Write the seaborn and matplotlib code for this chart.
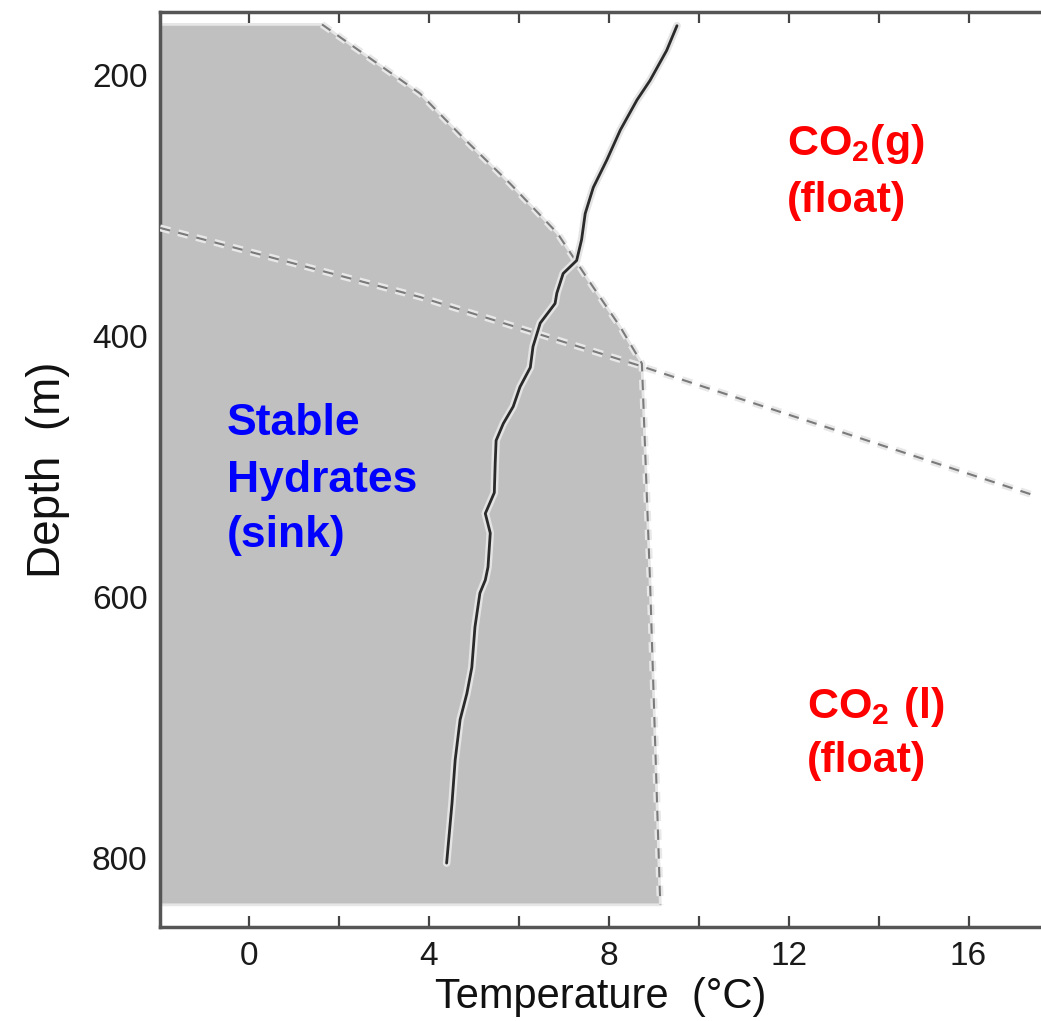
import matplotlib
matplotlib.use("Agg")
import numpy as np
import pandas as pd
import seaborn as sns
import matplotlib.pyplot as plt
import matplotlib.patheffects as pe

# ---------------- data ----------------
# hydrate stability boundary (upper-right edge of the grey region)
hyd_temp = [-1.97, 1.63, 3.81, 4.77, 5.81, 6.86, 7.59, 8.26, 8.74, 8.92, 9.14, 9.15]
hyd_depth = [161, 161, 214, 248, 283, 321, 359, 393, 421, 587, 827, 836]
hyd_bottom = 836

# CO2 gas / liquid boundary
gl_temp = [-1.97, 3.81, 8.63, 17.45]
gl_depth = [317, 370, 422, 522]

# measured temperature profile
prof_temp = [9.52, 9.29, 8.92, 8.63, 8.26, 7.96, 7.66, 7.48, 7.40, 7.29, 6.99, 6.85,
             6.81, 6.48, 6.32, 6.26, 6.03, 5.88, 5.66, 5.50, 5.48, 5.46, 5.26, 5.37,
             5.32, 5.26, 5.14, 5.03, 4.96, 4.85, 4.70, 4.59, 4.52, 4.40]
prof_depth = [162, 181, 204, 219, 242, 265, 286, 306, 326, 342, 352, 367,
              375, 390, 408, 424, 439, 454, 467, 480, 497, 520, 536, 551,
              577, 587, 597, 623, 654, 674, 694, 725, 758, 804]

x_ticks = [0, 2, 4, 6, 8, 10, 12, 14, 16]
x_ticklabels = ["0", "", "4", "", "8", "", "12", "", "16"]
y_ticks = [200, 250, 300, 350, 400, 450, 500, 550, 600, 650, 700, 750, 800]
y_ticklabels = ["200", "", "", "", "400", "", "", "", "600", "", "", "", "800"]

# ---------------- style ----------------
sns.set_theme(style="ticks")
plt.rcParams["font.family"] = ["Liberation Sans", "DejaVu Sans"]
plt.rcParams["mathtext.fontset"] = "custom"
plt.rcParams["mathtext.rm"] = "Liberation Sans"
plt.rcParams["mathtext.bf"] = "Liberation Sans:bold"

fig = plt.figure(figsize=(10.41, 10.21), dpi=100)
ax = fig.add_axes([160 / 1041, 1 - 927 / 1021, 881 / 1041, 915 / 1021])

# grey hydrate region
poly_x = hyd_temp + [hyd_temp[0]]
poly_y = hyd_depth + [hyd_bottom]
ax.fill(poly_x, poly_y, facecolor="#c0c0c0", edgecolor="#e6e6e6", linewidth=2, zorder=1)

halo = [pe.Stroke(linewidth=5, foreground="#e8e8e8"), pe.Normal()]

# hydrate boundary (dashed)
ax.plot(hyd_temp[1:], hyd_depth[1:], color="#7a7a7a", lw=1.5,
        linestyle=(0, (5, 4)), zorder=3, path_effects=halo)
# gas/liquid boundary (dashed)
ax.plot(gl_temp, gl_depth, color="#7a7a7a", lw=1.5,
        linestyle=(0, (5, 4)), zorder=3, path_effects=halo)

# temperature profile
df = pd.DataFrame({"Temperature": prof_temp, "Depth": prof_depth})
sns.lineplot(data=df, x="Temperature", y="Depth", sort=False, estimator=None,
             color="#2a2a2a", lw=2.0, ax=ax, zorder=4)
ax.lines[-1].set_path_effects([pe.Stroke(linewidth=5.5, foreground="#e4e4e4"), pe.Normal()])

# axes limits / ticks
ax.set_xlim(-1.97, 17.61)
ax.set_ylim(853, 151.5)
ax.set_xticks(x_ticks)
ax.set_xticklabels(x_ticklabels)
ax.set_yticks(y_ticks)
ax.set_yticklabels(y_ticklabels)
ax.tick_params(axis="both", direction="in", length=8, width=1.6, color="#444444",
               labelsize=24, labelcolor="#1a1a1a")
ax.tick_params(axis="x", top=True, pad=10)
ax.tick_params(axis="y", pad=9)

for side in ["left", "top", "bottom"]:
    ax.spines[side].set_color("#555555")
    ax.spines[side].set_linewidth(2.5)
ax.spines["right"].set_visible(False)

ax.set_xlabel("Temperature  (°C)", fontsize=30, labelpad=4, color="#111111")
ax.set_ylabel("Depth  (m)", fontsize=33, labelpad=16, color="#111111")

# annotations
blue = "#0000ff"
red = "#ff0000"
for txt, d in [("Stable", 476), ("Hydrates", 519.5), ("(sink)", 561.5)]:
    ax.text(-0.48, d, txt, color=blue, fontsize=32, fontweight="bold",
            va="baseline", ha="left", zorder=5)

ax.text(11.97, 261, r"$\mathbf{CO_2(g)}$", color=red, fontsize=31, va="baseline", ha="left", zorder=5)
ax.text(11.97, 305, "(float)", color=red, fontsize=31, fontweight="bold", va="baseline", ha="left", zorder=5)
ax.text(12.41, 692.5, r"$\mathbf{CO_2\ (l)}$", color=red, fontsize=31, va="baseline", ha="left", zorder=5)
ax.text(12.41, 734, "(float)", color=red, fontsize=31, fontweight="bold", va="baseline", ha="left", zorder=5)

fig.savefig("out.png", dpi=100, facecolor="white")
